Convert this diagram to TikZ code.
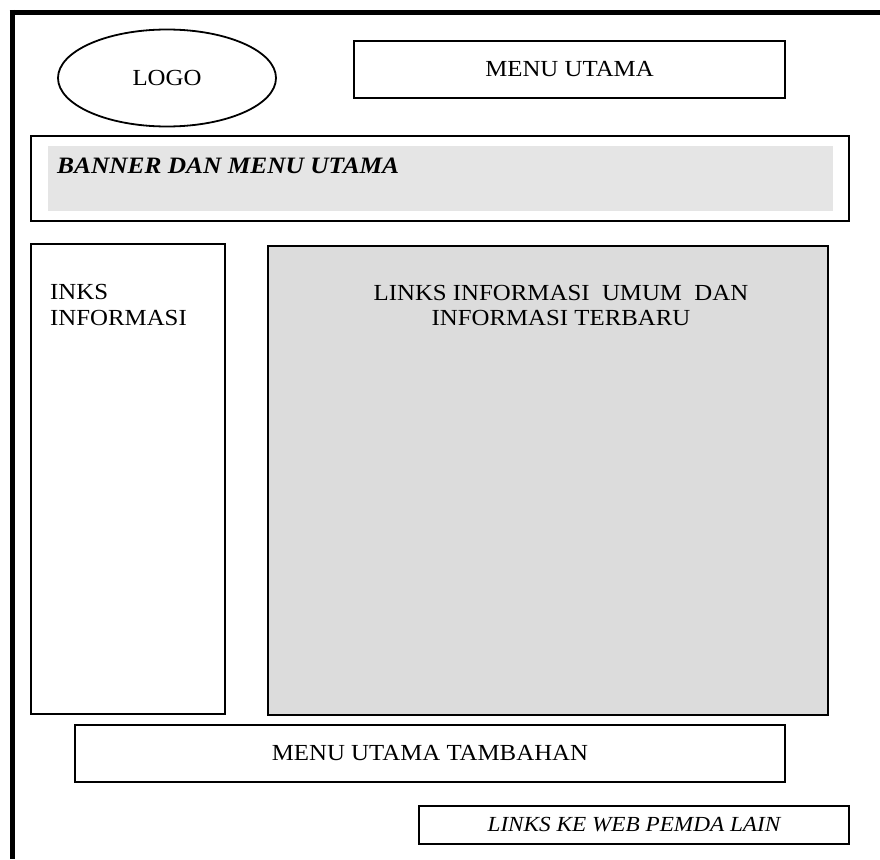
\documentclass[tikz,border=0pt]{standalone}
\usepackage{fontspec}
\setmainfont{Liberation Serif}[FakeStretch=1.08]
\usetikzlibrary{shapes.geometric}
\definecolor{bannergray}{RGB}{229,229,229}
\definecolor{boxgray}{RGB}{220,220,220}
\tikzset{
  big/.style={font=\fontsize{23}{28}\selectfont},
  framebox/.style={draw=black, line width=1.6pt, rectangle, inner sep=0pt},
  border/.style={draw=black, line width=5pt},
}
\begin{document}
\begin{tikzpicture}[x=1pt,y=-1pt]
\useasboundingbox (0,0) rectangle (880,859);
% outer thick border
\coordinate (tl) at (12,10);
\coordinate (tr) at (880,12.5);
\coordinate (bl) at (12,859);
\draw[border] (9.5,12.5) -- (tr);
\draw[border] (tl) -- (bl);
% logo
\node[ellipse, draw=black, line width=1.8pt, minimum width=218, minimum height=97, inner sep=0pt, big] (logo) at (167,78) {LOGO};
% menu utama
\node[framebox, minimum width=431, minimum height=57, big] (menu) at (569.5,69.5) {MENU UTAMA};
% banner
\node[framebox, minimum width=818, minimum height=85] (banner) at (440,178.5) {};
\node[fill=bannergray, minimum width=785, minimum height=65, inner sep=0pt] (bannerin) at (440.5,178.5) {};
\node[anchor=base west, inner sep=0pt, font=\fontsize{23.5}{28}\selectfont\bfseries\itshape] (bannertxt) at (57,173) {BANNER DAN MENU UTAMA};
% left box
\node[framebox, minimum width=194, minimum height=470] (left) at (128,479) {};
\node[big, anchor=base west, inner sep=0pt] (left1) at (50,299) {INKS};
\node[big, anchor=base west, inner sep=0pt] (left2) at (50,325) {INFORMASI};
% main gray box
\node[framebox, fill=boxgray, line width=2pt, minimum width=560, minimum height=469] (main) at (548,480.5) {};
\node[big, anchor=base, inner sep=0pt] (main1) at (561,300) {LINKS INFORMASI\ \ UMUM\ \ DAN};
\node[big, anchor=base, inner sep=0pt] (main2) at (561,325) {INFORMASI TERBARU};
% menu utama tambahan
\node[framebox, minimum width=710, minimum height=57, big] (tambah) at (430,753.5) {MENU UTAMA TAMBAHAN};
% links ke web
\node[framebox, minimum width=430, minimum height=38, font=\fontsize{21.5}{26}\selectfont\itshape] (pemda) at (634,825) {LINKS KE WEB PEMDA LAIN};
\end{tikzpicture}
\end{document}
